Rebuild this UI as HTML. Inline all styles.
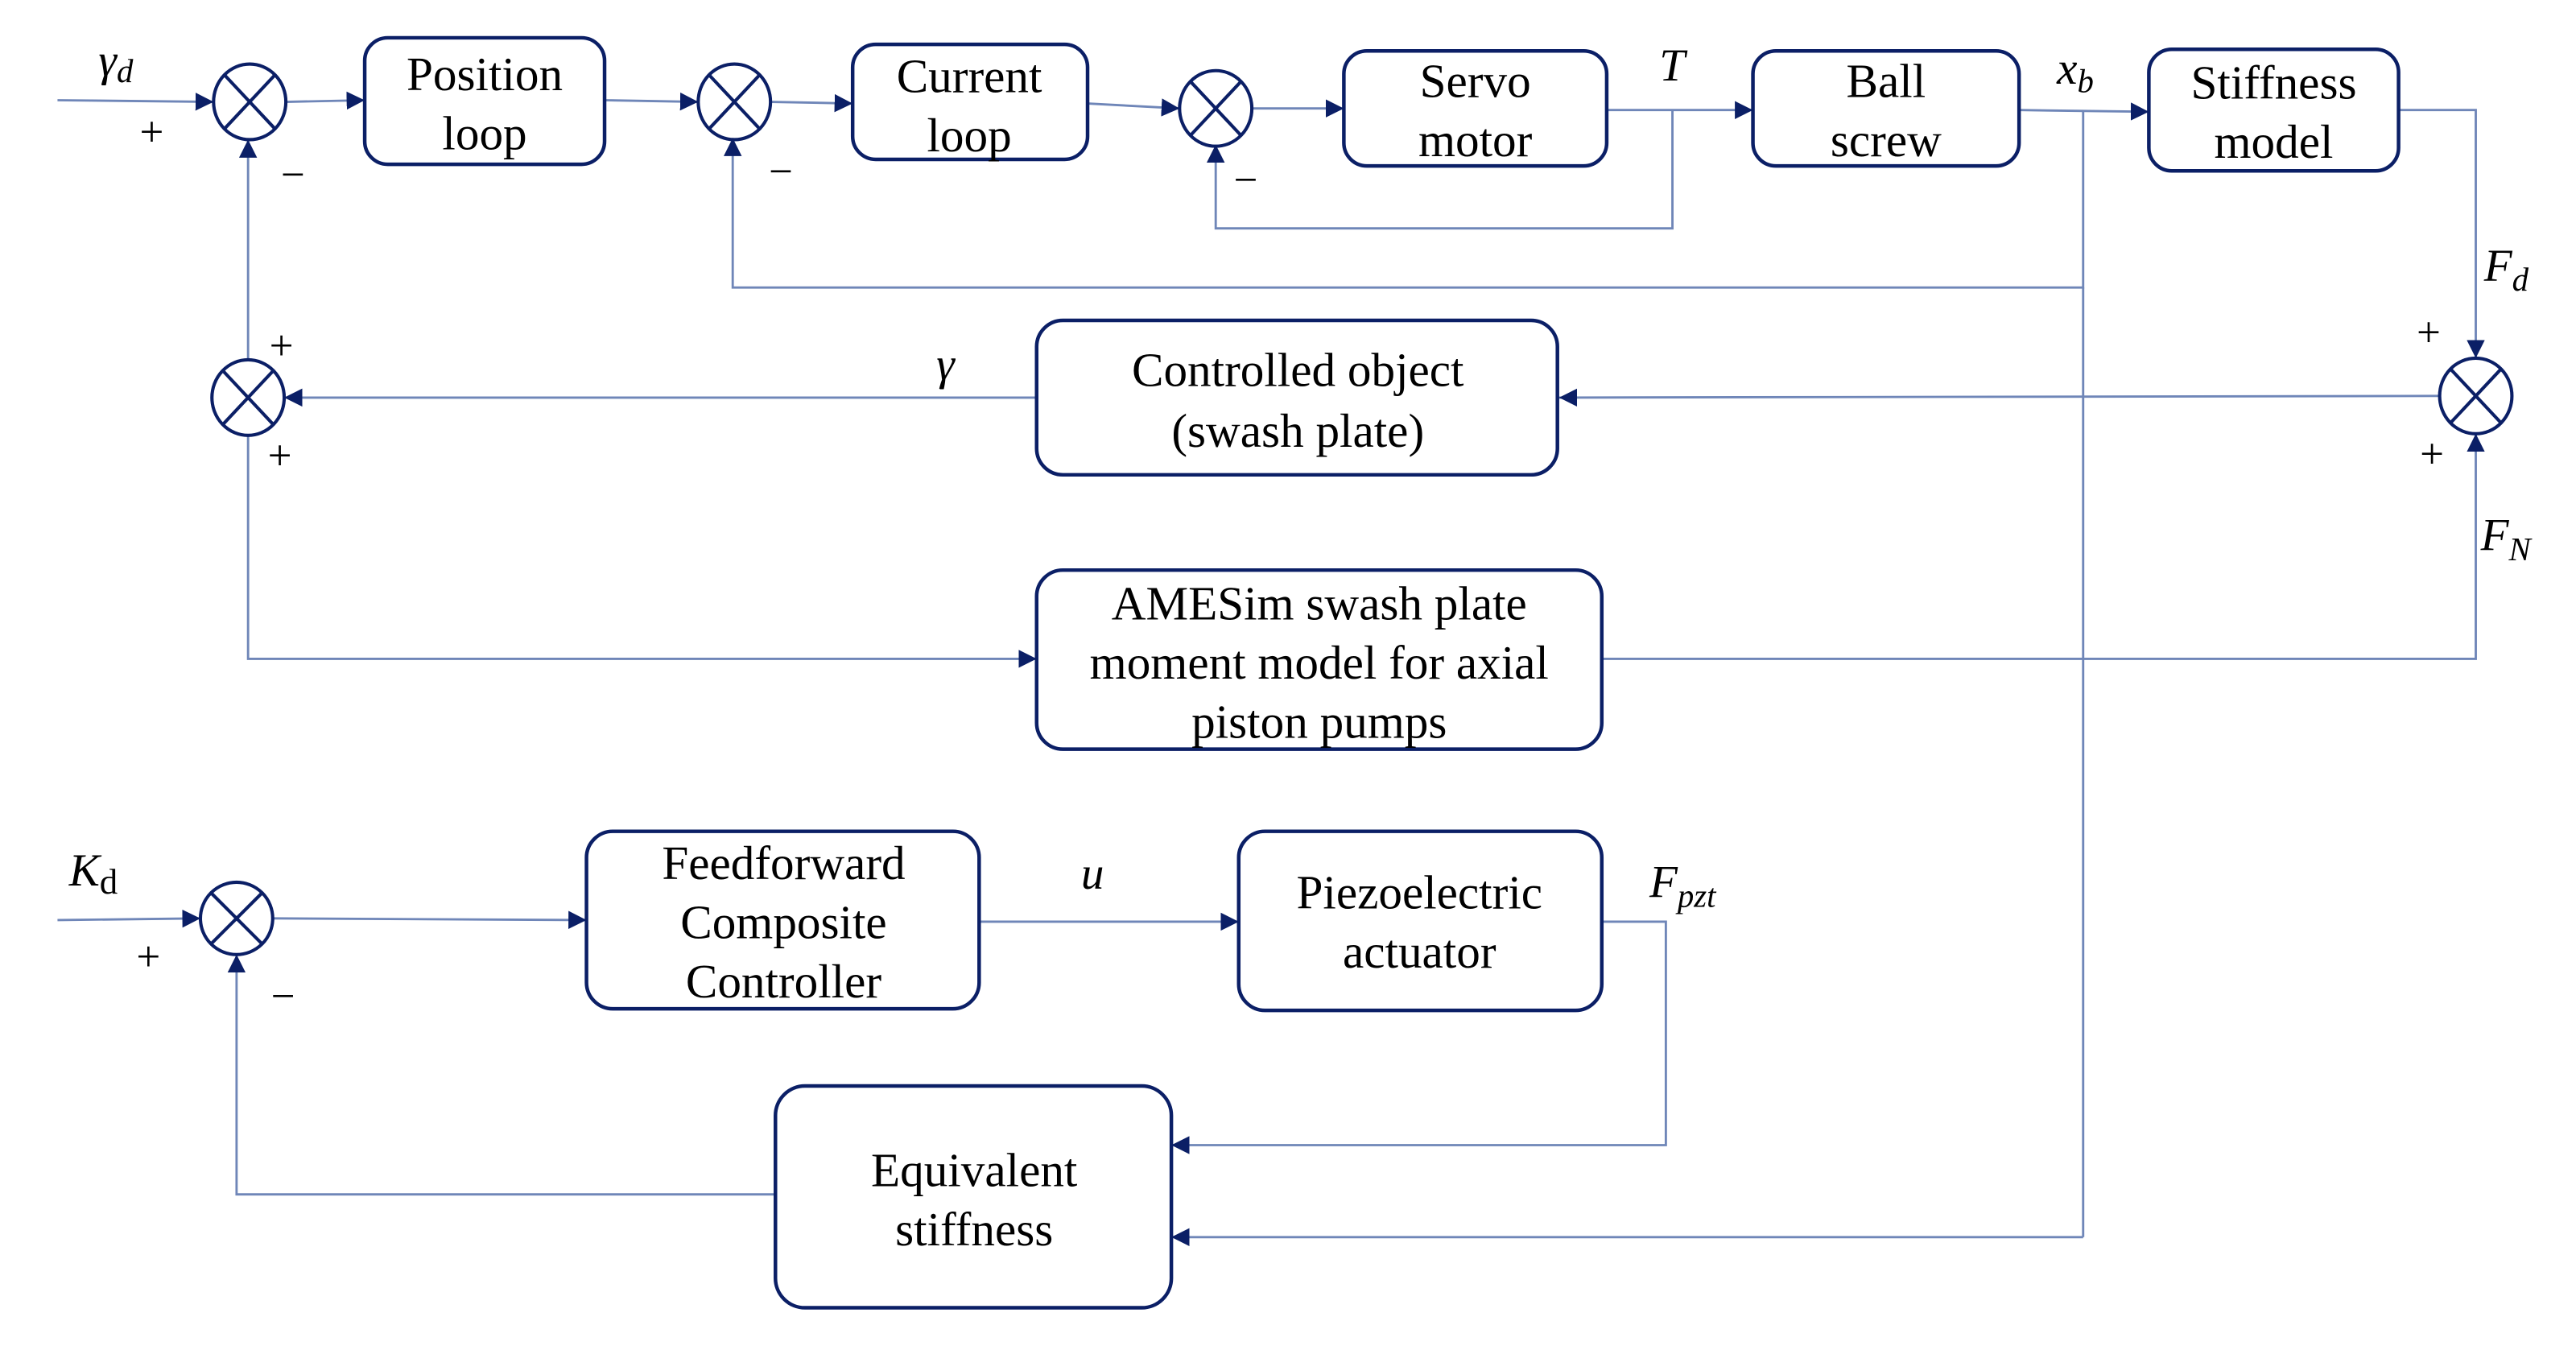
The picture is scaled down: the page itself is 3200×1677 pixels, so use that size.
<!DOCTYPE html>
<html><head><meta charset="utf-8"><style>
html,body{margin:0;padding:0;background:#fff;}
svg{display:block;}
text{font-family:"Liberation Serif",serif;fill:#000;}
</style></head><body>
<svg width="3200" height="1677" viewBox="0 0 1568 821.7" preserveAspectRatio="none" xmlns="http://www.w3.org/2000/svg">
<defs>
<marker id="a" viewBox="0 0 10 10" refX="10" refY="5" markerWidth="11" markerHeight="11" markerUnits="userSpaceOnUse" orient="auto">
<path d="M0,0 L10,5 L0,10 z" fill="#0b1f66"/></marker>
</defs>
<g fill="none" stroke="#6f86b8" stroke-width="1.4">
<line x1="35" y1="61" x2="130" y2="62" marker-end="url(#a)"/>
<line x1="174" y1="62" x2="222" y2="61" marker-end="url(#a)"/>
<line x1="368" y1="61" x2="425" y2="62" marker-end="url(#a)"/>
<line x1="469" y1="62" x2="519" y2="63" marker-end="url(#a)"/>
<line x1="662" y1="63" x2="718" y2="66" marker-end="url(#a)"/>
<line x1="762" y1="66" x2="818" y2="66" marker-end="url(#a)"/>
<line x1="978" y1="67" x2="1067" y2="67" marker-end="url(#a)"/>
<polyline points="1018,67 1018,139 740,139 740,88" marker-end="url(#a)"/>
<line x1="1229" y1="67" x2="1308" y2="68" marker-end="url(#a)"/>
<polyline points="1268,67 1268,175 446,175 446,84" marker-end="url(#a)"/>
<line x1="1268" y1="175" x2="1268" y2="753"/>
<polyline points="1460,67 1507,67 1507,218" marker-end="url(#a)"/>
<line x1="1485" y1="241" x2="949" y2="242" marker-end="url(#a)"/>
<line x1="631" y1="242" x2="173" y2="242" marker-end="url(#a)"/>
<line x1="151" y1="219" x2="151" y2="85" marker-end="url(#a)"/>
<polyline points="151,265 151,401 631,401" marker-end="url(#a)"/>
<polyline points="975,401 1507,401 1507,264" marker-end="url(#a)"/>
<line x1="35" y1="560" x2="122" y2="559" marker-end="url(#a)"/>
<line x1="166" y1="559" x2="357" y2="560" marker-end="url(#a)"/>
<line x1="596" y1="561" x2="754" y2="561" marker-end="url(#a)"/>
<polyline points="975,561 1014,561 1014,697 713,697" marker-end="url(#a)"/>
<polyline points="1268,753 713,753" marker-end="url(#a)"/>
<polyline points="472,727 144,727 144,581" marker-end="url(#a)"/>
</g>
<g fill="none" stroke="#0b1f66" stroke-width="2.2">
<rect x="222" y="23" width="146" height="77" rx="14"/>
<rect x="519" y="27" width="143" height="70" rx="14"/>
<rect x="818" y="31" width="160" height="70" rx="14"/>
<rect x="1067" y="31" width="162" height="70" rx="14"/>
<rect x="1308" y="30" width="152" height="74" rx="14"/>
<rect x="631" y="195" width="317" height="94" rx="16"/>
<rect x="631" y="347" width="344" height="109" rx="16"/>
<rect x="357" y="506" width="239" height="108" rx="16"/>
<rect x="754" y="506" width="221" height="109" rx="16"/>
<rect x="472" y="661" width="241" height="135" rx="18"/>
</g>
<g fill="none" stroke="#0b1f66" stroke-width="2">
<g transform="translate(152,62)"><ellipse rx="22" ry="23"/><path d="M-15,-16 L15,16 M15,-16 L-15,16"/></g>
<g transform="translate(447,62)"><ellipse rx="22" ry="23"/><path d="M-15,-16 L15,16 M15,-16 L-15,16"/></g>
<g transform="translate(740,66)"><ellipse rx="22" ry="23"/><path d="M-15,-16 L15,16 M15,-16 L-15,16"/></g>
<g transform="translate(151,242)"><ellipse rx="22" ry="23"/><path d="M-15,-16 L15,16 M15,-16 L-15,16"/></g>
<g transform="translate(1507,241)"><ellipse rx="22" ry="23"/><path d="M-15,-16 L15,16 M15,-16 L-15,16"/></g>
<g transform="translate(144,559)"><ellipse rx="22" ry="22"/><path d="M-15,-15 L15,15 M15,-15 L-15,15"/></g>
</g>
<g font-size="29" text-anchor="middle">
<text x="295" y="55">Position</text><text x="295" y="91">loop</text>
<text x="590" y="56">Current</text><text x="590" y="92">loop</text>
<text x="898" y="59">Servo</text><text x="898" y="95">motor</text>
<text x="1148" y="59">Ball</text><text x="1148" y="95">screw</text>
<text x="1384" y="60">Stiffness</text><text x="1384" y="96">model</text>
<text x="790" y="235">Controlled object</text><text x="790" y="272">(swash plate)</text>
<text x="803" y="377">AMESim swash plate</text><text x="803" y="413">moment model for axial</text><text x="803" y="449">piston pumps</text>
<text x="477" y="535">Feedforward</text><text x="477" y="571">Composite</text><text x="477" y="607">Controller</text>
<text x="864" y="553">Piezoelectric</text><text x="864" y="589">actuator</text>
<text x="593" y="722">Equivalent</text><text x="593" y="758">stiffness</text>
</g>
<g font-size="28" font-style="italic">
<text x="60" y="46">γ<tspan font-size="20" dy="4">d</tspan></text>
<text x="1010" y="49">T</text>
<text x="1252" y="51">x<tspan font-size="20" dy="5">b</tspan></text>
<text x="1512" y="171">F<tspan font-size="20" dy="6">d</tspan></text>
<text x="570" y="231">γ</text>
<text x="1510" y="335">F<tspan font-size="20" dy="6">N</tspan></text>
<text x="42" y="539">K<tspan font-size="22" dy="5" font-style="normal">d</tspan></text>
<text x="658" y="541">u</text>
<text x="1004" y="546">F<tspan font-size="20" dy="6">pzt</tspan></text>
</g>
<g font-size="26">
<text x="85" y="89">+</text><text x="171" y="115">−</text>
<text x="468" y="113">−</text><text x="751" y="118">−</text>
<text x="164" y="219">+</text><text x="163" y="286">+</text>
<text x="1471" y="211">+</text><text x="1473" y="285">+</text>
<text x="83" y="591">+</text><text x="165" y="615">−</text>
</g>
</svg>
</body></html>
